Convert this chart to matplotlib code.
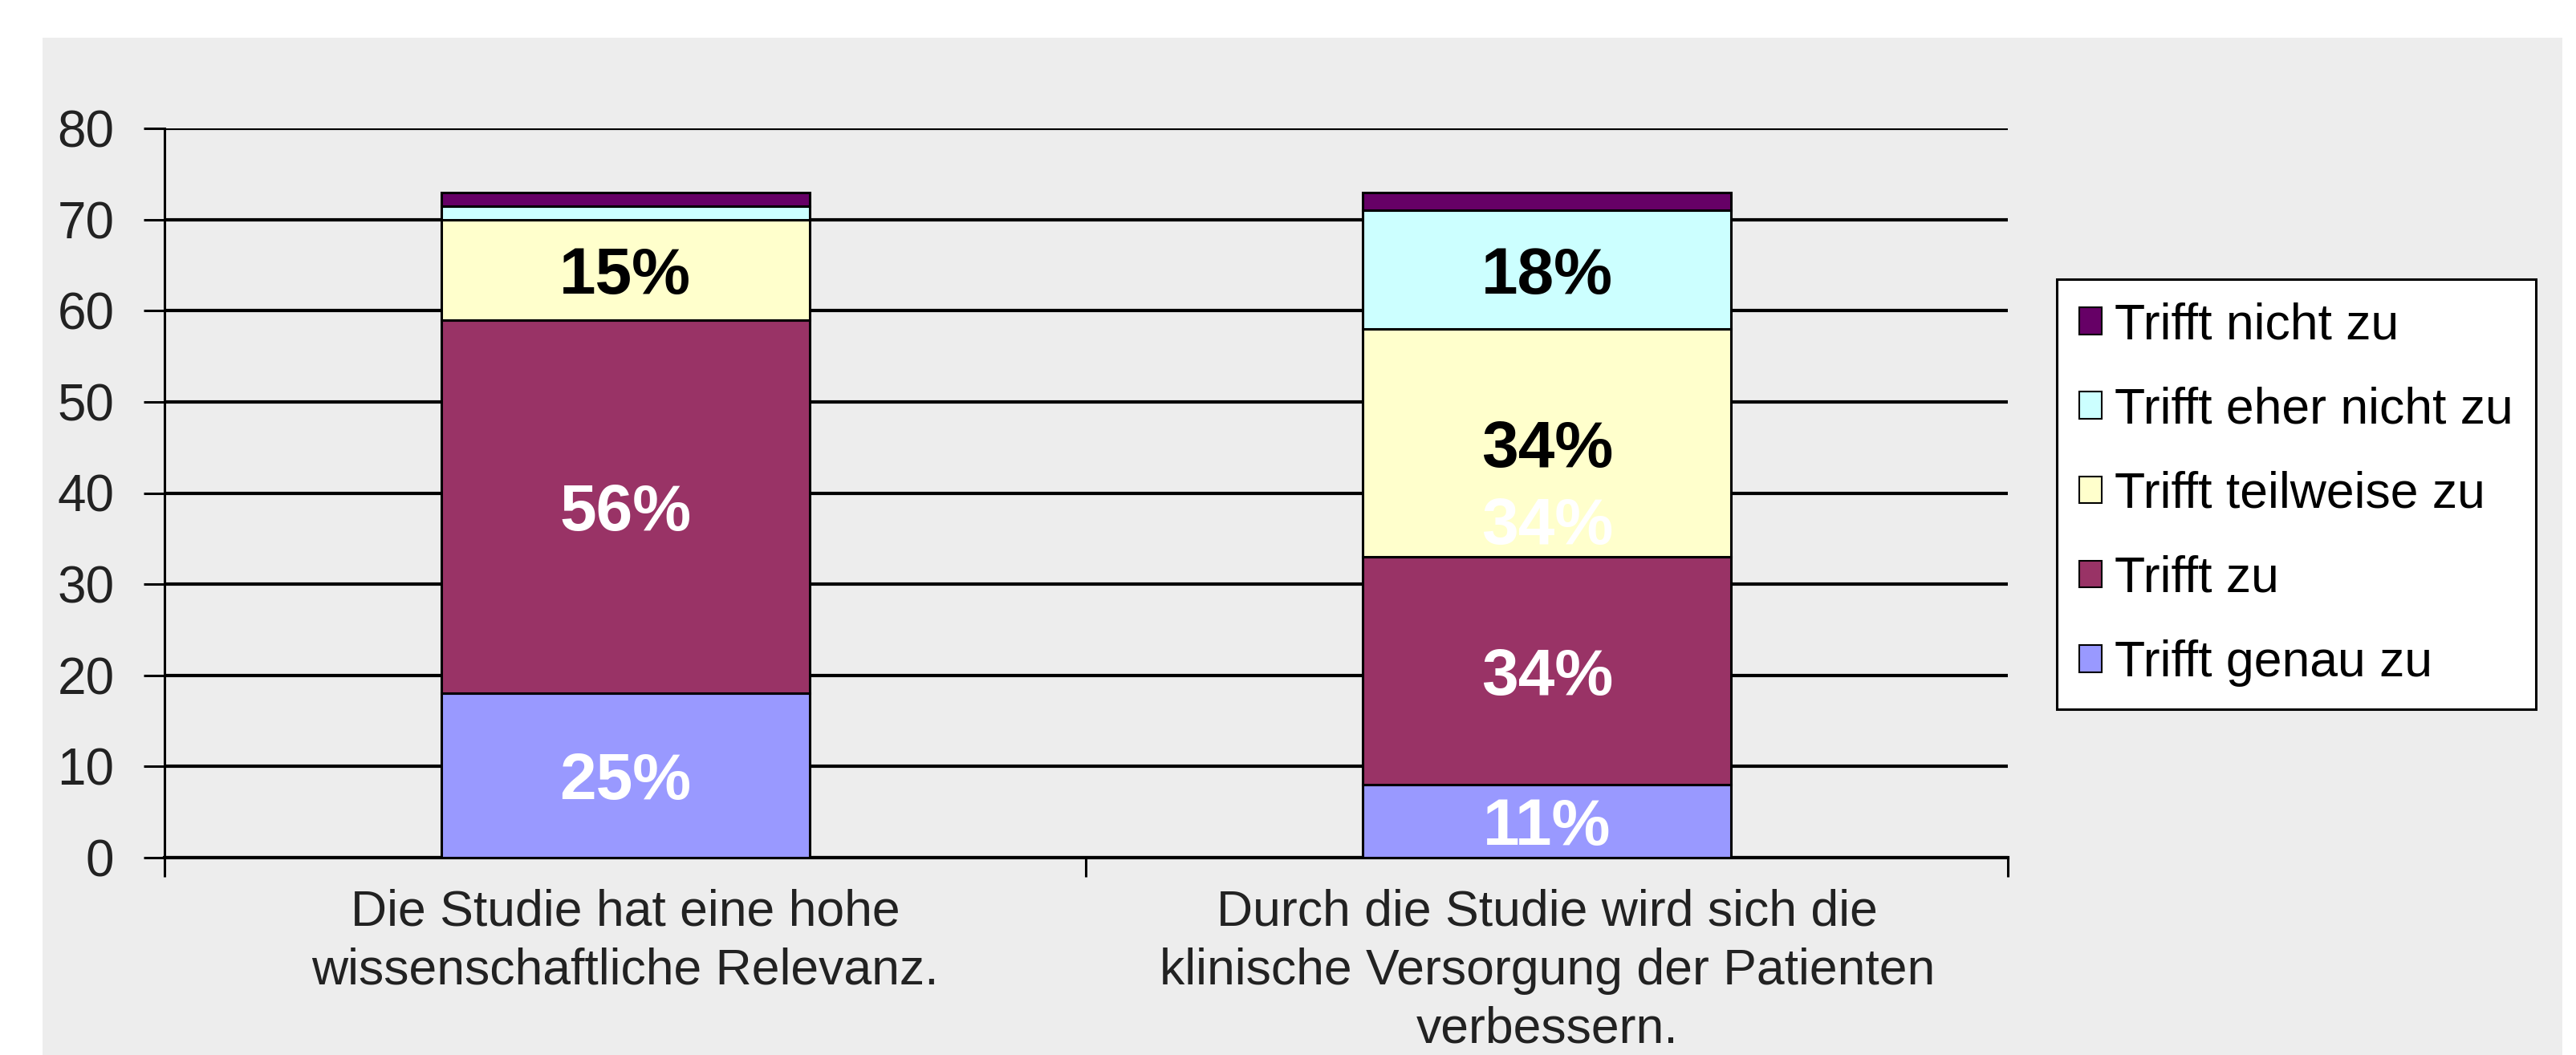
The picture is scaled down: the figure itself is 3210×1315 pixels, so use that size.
import matplotlib
matplotlib.use("Agg")
import matplotlib.pyplot as plt
from matplotlib.patches import Rectangle, Patch
from matplotlib.ticker import FixedLocator
import numpy as np

# ---------------- data ----------------
categories = [
    "Die Studie hat eine hohe\nwissenschaftliche Relevanz.",
    "Durch die Studie wird sich die\nklinische Versorgung der Patienten\nverbessern.",
]
series_names = ["Trifft genau zu", "Trifft zu", "Trifft teilweise zu",
                "Trifft eher nicht zu", "Trifft nicht zu"]
trifft_genau_zu = [18, 8]
trifft_zu = [41, 25]
trifft_teilweise_zu = [11, 25]
trifft_eher_nicht_zu = [1.5, 13]
trifft_nicht_zu = [1.5, 2]

pct_genau = ["25%", "11%"]
pct_zu = ["56%", "34%"]
pct_teilweise = ["15%", "34%"]
pct_eher_nicht = ["", "18%"]
pct_nicht = ["", ""]

yticks = [0, 10, 20, 30, 40, 50, 60, 70, 80]

series_values = [trifft_genau_zu, trifft_zu, trifft_teilweise_zu,
                 trifft_eher_nicht_zu, trifft_nicht_zu]
series_pcts = [pct_genau, pct_zu, pct_teilweise, pct_eher_nicht, pct_nicht]

# ---------------- style ----------------
colors = ["#9999FF", "#993366", "#FFFFCC", "#CCFFFF", "#660066"]
label_colors = ["white", "white", "black", "black", "white"]
FONT = ["Liberation Sans", "DejaVu Sans"]
plt.rcParams["font.family"] = FONT

W, H = 3210, 1315
fig = plt.figure(figsize=(W / 100, H / 100), dpi=100)
fig.patch.set_facecolor("white")
fig.patches.append(Rectangle((53 / W, 0), (3193 - 53) / W, (H - 47) / H,
                             transform=fig.transFigure, facecolor="#EDEDED",
                             edgecolor="none", zorder=-10))

ax = fig.add_axes([205 / W, (H - 1069) / H, (2502 - 205) / W, (1069 - 160) / H])
ax.set_facecolor("none")

x = np.arange(len(categories))
bottom = np.zeros(len(categories))
for vals, col, name in zip(series_values, colors, series_names):
    ax.bar(x, vals, width=0.4, bottom=bottom, color=col, edgecolor="black",
           linewidth=2.2, label=name, zorder=3)
    bottom = bottom + np.array(vals, dtype=float)

# percent labels
bottom = np.zeros(len(categories))
for vals, pcts, lc in zip(series_values, series_pcts, label_colors):
    for i, (v, p) in enumerate(zip(vals, pcts)):
        if p:
            ax.text(x[i], bottom[i] + v / 2, p, ha="center", va="center_baseline",
                    fontsize=59, fontweight="bold", color=lc, zorder=5)
    bottom = bottom + np.array(vals, dtype=float)

# leftover white label visible in the original (bar 2, yellow segment)
base2 = trifft_genau_zu[1] + trifft_zu[1]
ax.text(x[1], base2 + 4, pct_teilweise[1], ha="center", va="center_baseline",
        fontsize=59, fontweight="bold", color="white", zorder=4)

# axes styling
ax.set_xlim(-0.5, 1.5)
ax.set_ylim(0, 80)
ax.set_yticks(yticks)
ax.yaxis.grid(True, color="black", linewidth=3.0)
ax.set_axisbelow(True)
ax.spines["right"].set_visible(False)
ax.spines["top"].set_visible(False)
ax.spines["left"].set_linewidth(2.2)
ax.spines["bottom"].set_linewidth(3.0)

ax.tick_params(axis="y", length=19, width=2.2, pad=26, labelsize=46,
               labelcolor="#222222", direction="out")
ax.set_xticks(x)
ax.set_xticklabels(categories, fontsize=45, color="#222222", linespacing=1.3)
ax.tick_params(axis="x", which="major", length=0, pad=28)
ax.xaxis.set_minor_locator(FixedLocator([-0.5, 0.5, 1.5]))
ax.tick_params(axis="x", which="minor", length=17, width=2.2, direction="out")

# legend
handles = [Patch(facecolor=c, edgecolor="black", linewidth=1.5) for c in colors][::-1]
labels = series_names[::-1]
leg = fig.legend(handles, labels, loc="upper left",
                 bbox_to_anchor=(2563 / W, (H - 348) / H),
                 fontsize=45, frameon=True, fancybox=False, framealpha=1,
                 edgecolor="black", facecolor="white",
                 handlelength=0.45, handleheight=0.45, handletextpad=0.25,
                 labelspacing=0.74, borderpad=0.45, borderaxespad=0)
leg.get_frame().set_linewidth(2.2)

fig.savefig("out.png", dpi=100)
